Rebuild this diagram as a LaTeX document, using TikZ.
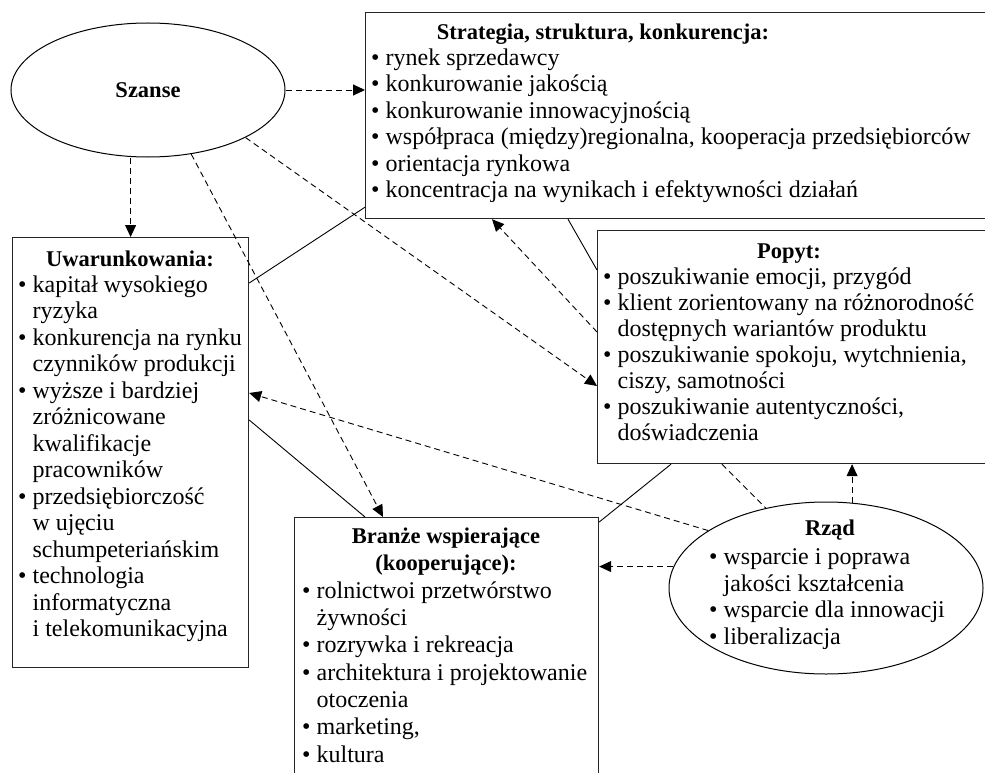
\documentclass[tikz,border=0pt]{standalone}
\usepackage{fontspec}
\setmainfont{Liberation Serif}
\usetikzlibrary{arrows.meta,shapes.geometric,calc}

% list markers: bullet with its space, and the matching hanging indent
\newcommand\bitem{\textbullet\ }
\newcommand\bcont{\hphantom{\textbullet\ }}

\tikzset{
  frame/.style={draw=black!85, line width=1.2pt, inner sep=0pt, anchor=north west},
  oval/.style={ellipse, draw=black, line width=1pt, inner sep=0pt},
  head/.style={font=\fontsize{22.5}{27}\selectfont\bfseries, inner sep=0pt, anchor=base},
  items/.style={font=\fontsize{24}{#1}\selectfont, inner sep=0pt, anchor=north west, align=left},
  items/.default=26.5,
  link/.style={line width=0.9pt},
  dlink/.style={line width=0.9pt, dash pattern=on 6pt off 4pt},
  arr/.style={-{Triangle[length=12pt,width=11pt]}},
}

\begin{document}
\begin{tikzpicture}[x=1pt,y=-1pt]
\useasboundingbox[fill=white] (0,0) rectangle (985,773);

% ---- frames and ovals ----
\node[oval, minimum width=274pt, minimum height=134pt,
      font=\fontsize{22.5}{27}\selectfont\bfseries] (szanse) at (148,90) {Szanse};
\node[frame, minimum width=630pt, minimum height=206pt] (strat) at (365,12) {};
\node[frame, minimum width=236pt, minimum height=430pt] (uwar) at (12,237) {};
\node[frame, minimum width=400pt, minimum height=233pt] (popyt) at (597,230) {};
\node[frame, minimum width=304pt, minimum height=290pt] (branze) at (294,517) {};
\node[oval, minimum width=314pt, minimum height=172pt, fill=white] (rzad) at (826,588) {};

% ---- texts ----
\node[head] (strat-title) at (603,40) {Strategia, struktura, konkurencja:};
\node[items] (strat-list) at (371,46.45) {\strut\bitem rynek sprzedawcy\\
  \bitem konkurowanie jakością\\
  \bitem konkurowanie innowacyjnością\\
  \bitem współpraca (między)regionalna, kooperacja przedsiębiorców\\
  \bitem orientacja rynkowa\\
  \bitem koncentracja na wynikach i efektywności działań};

\node[head] (uwar-title) at (130,266) {Uwarunkowania:};
\node[items] (uwar-list) at (18,273.45) {\strut\bitem kapitał wysokiego\\
  \bcont ryzyka\\
  \bitem konkurencja na rynku\\
  \bcont czynników produkcji\\
  \bitem wyższe i bardziej\\
  \bcont zróżnicowane\\
  \bcont kwalifikacje\\
  \bcont pracowników\\
  \bitem przedsiębiorczość\\
  \bcont w ujęciu\\
  \bcont schumpeteriańskim\\
  \bitem technologia\\
  \bcont informatyczna\\
  \bcont i telekomunikacyjna};

\node[head] (popyt-title) at (789,258) {Popyt:};
\node[items=26] (popyt-list) at (603,265.8) {\strut\bitem poszukiwanie emocji, przygód\\
  \bitem klient zorientowany na różnorodność\\
  \bcont dostępnych wariantów produktu\\
  \bitem poszukiwanie spokoju, wytchnienia,\\
  \bcont ciszy, samotności\\
  \bitem poszukiwanie autentyczności,\\
  \bcont doświadczenia};

\node[head, anchor=north, align=center] (branze-title) at (446,524.1)
  {\strut Branże wspierające\\(kooperujące):};
\node[items=27.3] (branze-list) at (302,578.9) {\strut\bitem rolnictwoi przetwórstwo\\
  \bcont żywności\\
  \bitem rozrywka i rekreacja\\
  \bitem architektura i projektowanie\\
  \bcont otoczenia\\
  \bitem marketing,\\
  \bitem kultura};

\node[head] (rzad-title) at (830,535) {Rząd};
\node[items=26.8] (rzad-list) at (709,545.24) {\strut\bitem wsparcie i poprawa\\
  \bcont jakości kształcenia\\
  \bitem wsparcie dla innowacji\\
  \bitem liberalizacja};

% ---- dashed arrows ----
\draw[dlink,arr] (szanse.east) -- (szanse.east -| strat.west);
\draw[dlink,arr] (szanse.south -| uwar.north) -- (uwar.north);
\draw[dlink,arr] (szanse.304.5) -- ($(branze.north west)+(89,0)$);
\draw[dlink,arr] (szanse.334.15) -- ($(popyt.north west)+(0,156)$);
\draw[dlink,arr] ($(popyt.north west)+(0,102)$) -- ($(strat.south west)+(127,0)$);
\draw[dlink,arr] (rzad.154.4) -- ($(uwar.north east)+(0,156)$);
\draw[dlink,arr] (rzad.73) -- (rzad.73 |- popyt.south);
\draw[dlink,arr] (rzad.172.5) -- (rzad.172.5 -| branze.east);
\draw[dlink] ($(popyt.south west)+(125,0)$) -- (rzad.127.9);

% ---- solid links ----
\draw[link] ($(strat.south west)+(0,-12)$) -- ($(uwar.north east)+(0,46)$);
\draw[link] ($(strat.south west)+(203,0)$) -- ($(popyt.north west)+(0,40)$);
\draw[link] ($(uwar.north east)+(0,183)$) -- ($(branze.north west)+(71,0)$);
\draw[link] ($(popyt.south west)+(74,0)$) -- ($(branze.north east)+(0,5)$);
\end{tikzpicture}
\end{document}
